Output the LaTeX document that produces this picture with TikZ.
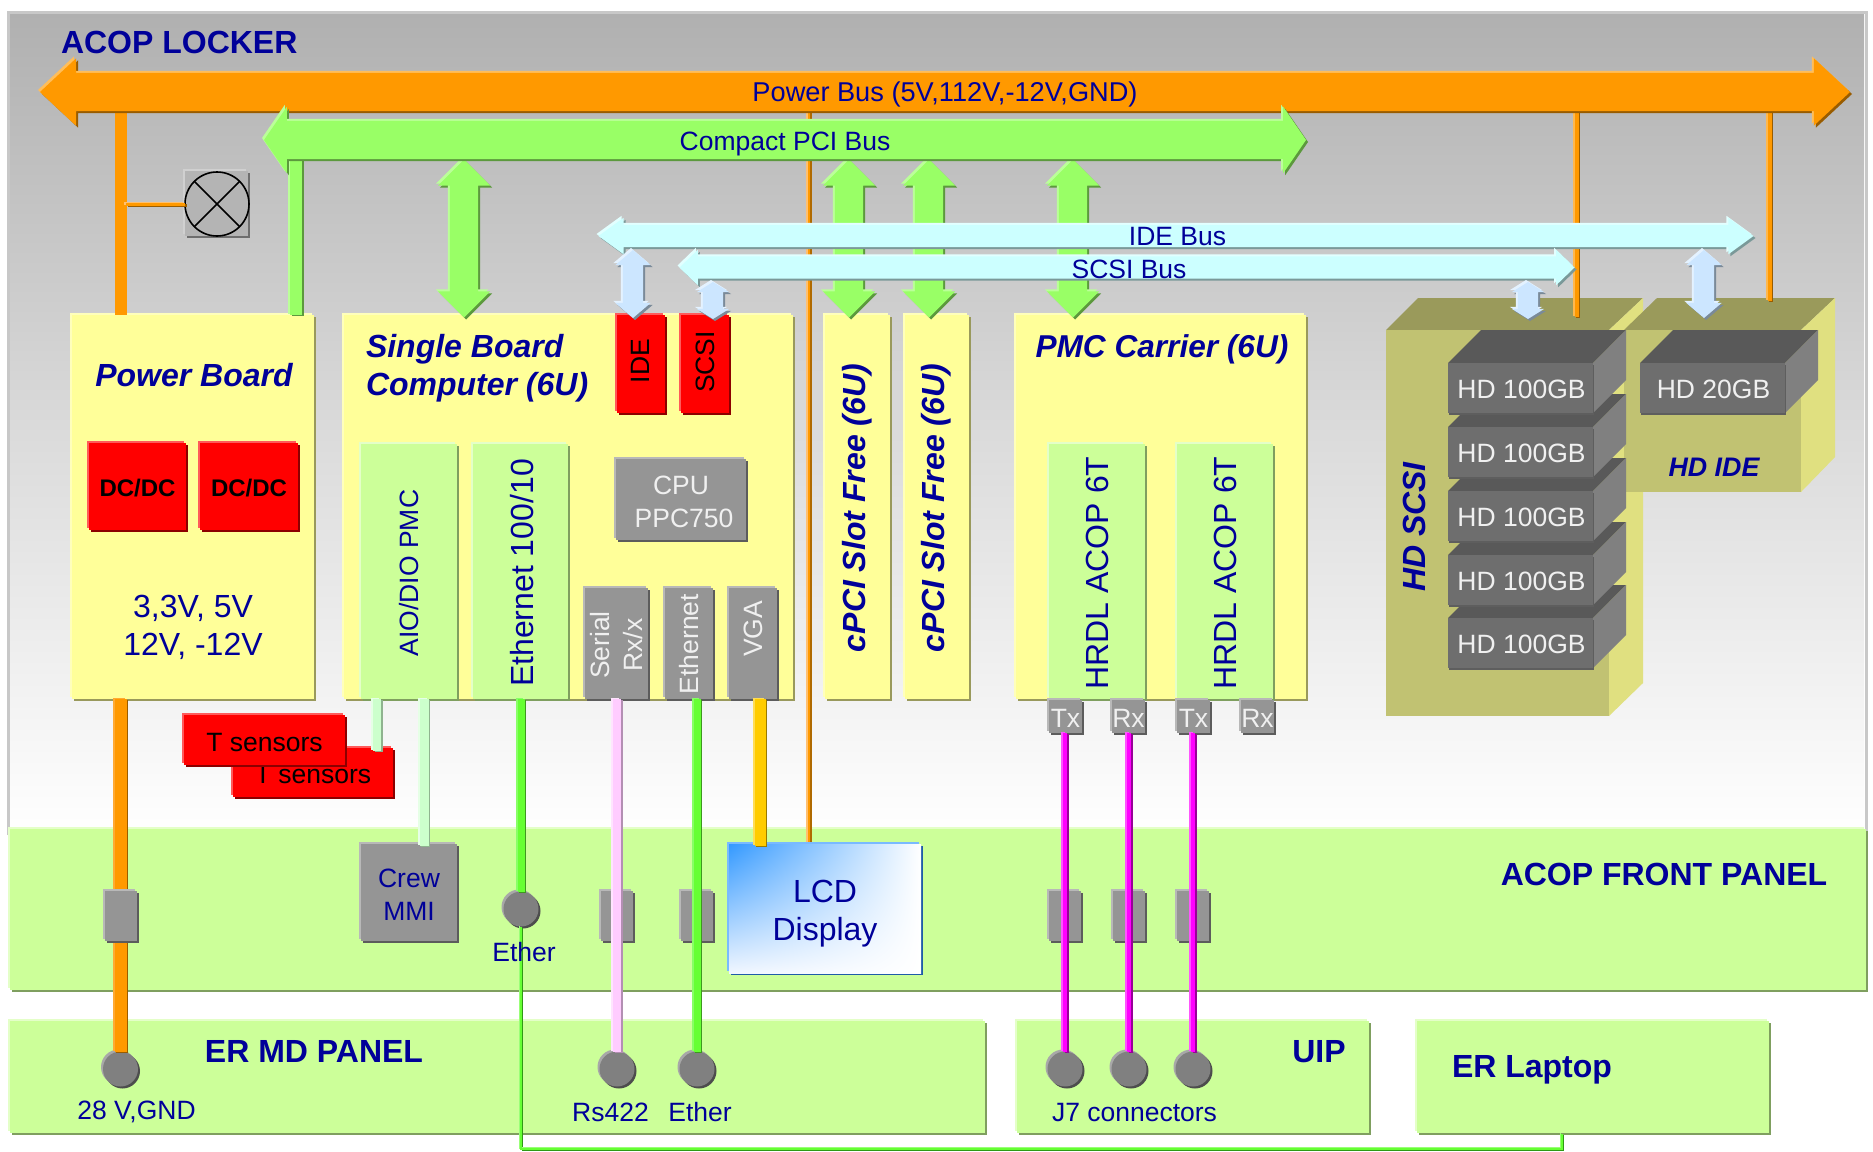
\documentclass[tikz,border=0pt]{standalone}
\usepackage{fontspec}
\setmainfont{Liberation Sans}
\usetikzlibrary{shapes.arrows,shadings}
\definecolor{tc}{HTML}{000099}
\definecolor{whtxt}{HTML}{F0F0F0}
\newcommand{\dc}[1]{\definecolor{#1}{HTML}{#1}}
\dc{F0F6FF}\dc{B0B0B0}\dc{DADADA}\dc{C8C8C8}\dc{FF9900}\dc{FFC070}\dc{B06A00}\dc{9A9A5B}\dc{E0E080}\dc{C1C272}\dc{FFB84D}\dc{995C00}\dc{FFFF99}\dc{FFFFBB}\dc{99995C}\dc{CCFF99}\dc{E4FFC8}\dc{7F9F5F}\dc{FF0000}\dc{FF5A5A}\dc{8C0000}\dc{959595}\dc{B8B8B8}\dc{5C5C5C}\dc{6E6E6E}\dc{5E5E5E}\dc{595959}\dc{808080}\dc{FFBE5A}\dc{99FF66}\dc{BBFF99}\dc{5C993D}\dc{CCFFFF}\dc{E2FFFF}\dc{7A9999}\dc{CCE6FF}\dc{E4F2FF}\dc{7A8A99}\dc{FFAA33}\dc{A8A8A8}\dc{4D4D4D}\dc{B4B4B4}\dc{D0D0D0}\dc{FFFFFF}\dc{79BAFF}\dc{1F5CA8}\dc{3399FF}\dc{E8F2FF}\dc{CCFFCC}\dc{E6FFE6}\dc{8FB38F}\dc{66FF33}\dc{88FF66}\dc{3D991F}\dc{FFCCFF}\dc{FFE4FF}\dc{B38FB3}\dc{FFCC00}\dc{FFDD55}\dc{997A00}\dc{FF00FF}\dc{FF55FF}\dc{990099}\dc{99FF77}\dc{2E9914}
\newcommand{\fsA}{\fontsize{26.5pt}{33pt}\selectfont}
\newcommand{\fsB}{\fontsize{32pt}{38pt}\selectfont}
\newcommand{\bx}[6][]{\node[boxn,#1,minimum width={(#5-#3)*1pt},minimum height={(#6-#4)*1pt}] (#2) at ({(#3+#5)/2},{(#4+#6)/2}) {};}
\newcommand{\tl}[3][]{\node[#1] (#2T) at (#2.center) {#3};}
% bevelled wire: width, main colour, light edge, dark edge, path
\newcommand{\wrl}[5]{%
 \begin{scope}[transform canvas={shift={(1.6pt,-1pt)}}]\draw[line width=#1,draw=#4] #5;\end{scope}
 \begin{scope}[transform canvas={shift={(-1.6pt,1pt)}}]\draw[line width=#1,draw=#3] #5;\end{scope}
 \draw[line width=#1,draw=#2] #5;}
\newcommand{\hd}[4]{%
 \fill[hdtop] (#2,#3) -- ++(33,-33) -- ++(145,0) -- ++(-33,33) -- cycle;
 \fill[hdside] (#2+145,#3) -- ++(33,-33) -- ++(0,50) -- ++(-33,33) -- cycle;
 \bx[hdfront]{#1}{#2}{#3}{#2+145}{#3+50}
 \tl[tw,yshift=-1.5pt,xshift=1pt]{#1}{#4}}
\tikzset{
 boxn/.style={rectangle,inner sep=0pt,outer sep=0pt,align=center},
 bev/.style n args={3}{fill=#1,preaction={fill=#3,transform canvas={shift={(2pt,-2pt)}}},preaction={fill=#2,transform canvas={shift={(-2pt,2pt)}}}},
 ylw/.style={bev={FFFF99}{FFFFBB}{99995C}},
 grn/.style={bev={CCFF99}{E4FFC8}{7F9F5F}},
 red/.style={bev={FF0000}{FF5A5A}{8C0000}},
 gry/.style={bev={959595}{B8B8B8}{5C5C5C}},
 hdfront/.style={fill=6E6E6E,preaction={fill=5E5E5E,transform canvas={shift={(1pt,-1.5pt)}}}},
 hdtop/.style={fill=595959},
 hdside/.style={fill=808080},
 t/.style={inner sep=0pt,outer sep=0pt,text=tc,font=\fsA,align=center},
 tb/.style={inner sep=0pt,outer sep=0pt,text=tc,font=\fsB\bfseries,align=center},
 tbi/.style={inner sep=0pt,outer sep=0pt,text=tc,font=\fsB\bfseries\itshape,align=left},
 tm/.style={inner sep=0pt,outer sep=0pt,text=tc,font=\fsB,align=center},
 tw/.style={inner sep=0pt,outer sep=0pt,text=whtxt,font=\fsA,align=center},
 tk/.style={inner sep=0pt,outer sep=0pt,text=black,font=\fsA,align=center},
 dcf/.style={inner sep=0pt,outer sep=0pt,text=black,font=\fontsize{24pt}{28pt}\selectfont\bfseries},
 dbl/.style n args={4}{double arrow,inner sep=0pt,outer sep=0pt,minimum height=#1,minimum width=#2,double arrow head extend=#3,double arrow tip angle=#4,double arrow head indent=0pt},
 obus/.style={bev={FF9900}{FFBE5A}{995C00},text=tc},
 gbus/.style={bev={99FF66}{BBFF99}{5C993D},text=tc,font=\fsA},
 cbus/.style={bev={CCFFFF}{E2FFFF}{7A9999},text=tc,font=\fsA},
 bbus/.style={bev={CCE6FF}{E4F2FF}{7A8A99}},
 dot/.style={circle,inner sep=0pt,outer sep=0pt,minimum size=35pt,bev={808080}{A8A8A8}{4D4D4D}},
}
\begin{document}
\begin{tikzpicture}[x=1pt,y=-1pt]
\useasboundingbox (0,0) rectangle (1873,1151);
\fill[white] (0,0) rectangle (1873,1151);
% locker background
\shade[top color=B0B0B0,bottom color=white,middle color=DADADA] (9,13) rectangle (1864,835);
\draw[line width=3pt,C8C8C8] (8,835) -- (8,12) -- (1866,12) -- (1866,835);
\node[tb,anchor=west] (lockerT) at (61,42) {ACOP LOCKER};
% panels
\bx[grn]{front}{10}{829}{1866}{990}
\bx[grn]{ermd}{10}{1021}{985}{1133}
\bx[grn]{uip}{1017}{1021}{1369}{1133}
\bx[grn]{lap}{1417}{1021}{1769}{1133}
\node[tb] (frontT) at (1664,874.5) {ACOP FRONT PANEL};
\node[tb] (ermdT) at (314,1051) {ER MD PANEL};
\node[tb] (uipT) at (1319,1052) {UIP};
\node[tb] (lapT) at (1532,1070) {ER Laptop};
% thin orange line to LCD
\coordinate (lcdo) at (809,846);
\coordinate (pbo) at (809,106);
\wrl{2.8pt}{FF9900}{FFC070}{B06A00}{(pbo) -- (lcdo)}
% orange verticals on the right (under the IDE bus)
\coordinate (hdso) at (1576.5,317);
\coordinate (hdio) at (1769.5,301);
\coordinate (pbs) at (1576.5,108);
\coordinate (pbi) at (1769.5,108);
% HD cabinets
\fill[9A9A5B] (1386,330) -- (1418,298) -- (1643,298) -- (1609,330) -- cycle;
\fill[E0E080] (1609,330) -- (1643,298) -- (1643,683) -- (1609,716) -- cycle;
\bx[fill=C1C272]{hdscsi}{1386}{330}{1609}{716}
\wrl{4pt}{FF9900}{FFB84D}{995C00}{(pbs) -- (hdso)}
\fill[9A9A5B] (1624,330) -- (1657,298) -- (1835,298) -- (1801,330) -- cycle;
\fill[E0E080] (1801,330) -- (1835,298) -- (1835,457) -- (1801,492) -- cycle;
\bx[fill=C1C272]{hdide}{1624}{330}{1801}{492}
\wrl{4pt}{FF9900}{FFB84D}{995C00}{(pbi) -- (hdio)}
\node[tbi,rotate=90] (hdscsiT) at (1414,527) {HD SCSI};
\node[tbi,font=\fontsize{26.8pt}{30pt}\selectfont\bfseries\itshape] (hdideT) at (1714,467) {HD IDE};
\hd{hd5}{1448}{618}{HD 100GB}
\hd{hd4}{1448}{555}{HD 100GB}
\hd{hd3}{1448}{491}{HD 100GB}
\hd{hd2}{1448}{427}{HD 100GB}
\hd{hd1}{1448}{363}{HD 100GB}
\hd{hd20}{1640}{363}{HD 20GB}
% boards
\bx[ylw]{pboard}{72}{315}{314}{699}
\bx[ylw]{sbc}{344}{315}{793}{699}
\bx[ylw]{slot1}{825}{315}{889.5}{699}
\bx[ylw]{slot2}{905}{315}{969}{699}
\bx[ylw]{pmc}{1016}{315}{1305.5}{699}
\node[tbi] (pboardT) at (194,375) {Power Board};
\node[tbi,anchor=west] (sbcT) at (366,368.5) {Single Board\\Computer (6U)};
\node[tbi,font=\fontsize{31.6pt}{38pt}\selectfont\bfseries\itshape] (pmcT) at (1162,349) {PMC Carrier (6U)};
\node[tbi,rotate=90] (slot1T) at (857,508) {cPCI Slot Free (6U)};
\node[tbi,rotate=90] (slot2T) at (936,508) {cPCI Slot Free (6U)};
\bx[red]{dc1}{89}{443}{186}{530}
\bx[red]{dc2}{200}{443}{298}{530}
\tl[dcf,yshift=-2pt]{dc1}{DC/DC}
\tl[dcf,yshift=-2pt]{dc2}{DC/DC}
\node[tm] (volt) at (193,627.5) {3,3V, 5V\\12V, -12V};
\bx[red]{ide}{617}{315}{665}{413}
\bx[red]{scsi}{681}{315}{729}{413}
\node[tk,rotate=90] (ideT) at (640.5,361) {IDE};
\node[tk,rotate=90] (scsiT) at (705,362) {SCSI};
\bx[grn]{aio}{361}{444}{457}{699}
\bx[grn]{eth}{473}{444}{568}{699}
\node[t,rotate=90] (aioT) at (409,573) {AIO/DIO PMC};
\node[tm,rotate=90] (ethT) at (522,573) {Ethernet 100/10};
\bx[gry]{cpu}{616}{459}{746}{540}
\tl[tw,yshift=-2pt]{cpu}{CPU\\\hspace*{6pt}PPC750}
\bx[gry]{serial}{585}{588}{648}{699}
\bx[gry]{ethp}{665}{588}{713}{699}
\bx[gry]{vga}{729}{588}{777}{699}
\node[tw,rotate=90] (serialT) at (617,645) {Serial\\Rx/x};
\node[tw,rotate=90] (ethpT) at (689,644) {Ethernet};
\node[tw,rotate=90] (vgaT) at (753,629) {VGA};
\bx[grn]{hrdl1}{1049}{444}{1145}{699}
\bx[grn]{hrdl2}{1177}{444}{1273}{699}
\node[tm,rotate=90] (hrdl1T) at (1097,573) {HRDL ACOP 6T};
\node[tm,rotate=90] (hrdl2T) at (1225,573) {HRDL ACOP 6T};
\bx[gry]{tx1}{1049}{700}{1082}{733}
\bx[gry]{rx1}{1112}{700}{1145}{733}
\bx[gry]{tx2}{1177}{700}{1210}{733}
\bx[gry]{rx2}{1241}{700}{1274}{733}
\tl[tw,yshift=-1.5pt]{tx1}{Tx}
\tl[tw,yshift=-1.5pt]{rx1}{Rx}
\tl[tw,yshift=-1.5pt]{tx2}{Tx}
\tl[tw,yshift=-1.5pt]{rx2}{Rx}
% fan
\bx[bev={B4B4B4}{D0D0D0}{6E6E6E}]{fanbox}{185}{171}{248}{236}
\node[circle,draw=black,line width=1.6pt,minimum size=64pt,inner sep=0pt,outer sep=0pt] (fan) at (217,204) {};
\draw[black,line width=1.6pt] (fan.45) -- (fan.225) (fan.135) -- (fan.315);
% vertical double arrows compact PCI <-> boards
\node[dbl={158pt}{52pt}{12pt}{90},gbus,text height=28pt,text depth=0pt,rotate=90] (a1) at (464,238.5) {};
\node[dbl={158pt}{52pt}{12pt}{90},gbus,text height=28pt,text depth=0pt,rotate=90] (a2) at (849,238.5) {};
\node[dbl={158pt}{52pt}{12pt}{90},gbus,text height=28pt,text depth=0pt,rotate=90] (a3) at (929,238.5) {};
\node[dbl={158pt}{52pt}{12pt}{90},gbus,text height=28pt,text depth=0pt,rotate=90] (a4) at (1073,238.5) {};
% buses
\coordinate (pbp) at (121,108);
\draw[line width=12pt,FF9900] (pbp) -- (pbp |- pboard.north);
\coordinate (cbp) at (296,150);
\wrl{12pt}{99FF66}{BBFF99}{5C993D}{(cbp) -- (cbp |- pboard.north)}
\node[dbl={1810pt}{67pt}{14.5pt}{86},obus,font=\fontsize{27.2pt}{33pt}\selectfont,text height=28.5pt,text depth=9.5pt] (pbus) at (945,92) {Power Bus (5V,112V,-12V,GND)};
\node[dbl={1042pt}{66pt}{14pt}{111},gbus,text height=29.5pt,text depth=8.5pt] (cbus) at (785,140) {Compact PCI Bus};
\coordinate (fanp) at (126,204);
\wrl{3pt}{FF9900}{FFC070}{995C00}{(fanp) -- (fan.west)}
\node[dbl={1155pt}{36pt}{7pt}{72},cbus,text height=20.5pt,text depth=1.5pt] (ibus) at (1176,236) {\hspace*{3pt}IDE Bus};
\node[dbl={895pt}{35pt}{6.5pt}{88},cbus,text height=22pt,text depth=0pt] (sbus) at (1127,267.5) {\hspace*{4pt}SCSI Bus};
% small double arrows
\node[dbl={68pt}{35pt}{7.5pt}{99},bbus,text height=20pt,text depth=0pt,rotate=90] (aide) at (633,284) {};
\node[dbl={37pt}{32pt}{6pt}{116},bbus,text height=20pt,text depth=0pt,rotate=90] (ascsi) at (713,300.5) {};
\node[dbl={37pt}{32pt}{6pt}{116},bbus,text height=20pt,text depth=0pt,rotate=90] (ahds) at (1528,300.5) {};
\node[dbl={68pt}{35pt}{7.5pt}{99},bbus,text height=20pt,text depth=0pt,rotate=90] (ahdi) at (1704,284) {};
% front panel connectors and sockets
\bx[gry]{lcd0}{601}{891}{633}{941}
\bx[gry]{lcd1}{681}{891}{713}{941}
\bx[gry]{j1}{1049}{891}{1081}{941}
\bx[gry]{j2}{1113}{891}{1145}{941}
\bx[gry]{j3}{1177}{891}{1209}{941}
\node[dot] (c28) at (120.5,1069) {};
\node[dot] (crs) at (617,1069) {};
\node[dot] (cet) at (697,1069) {};
\node[dot] (cj1) at (1065,1069) {};
\node[dot] (cj2) at (1129,1069) {};
\node[dot] (cj3) at (1193,1069) {};
\node[dot] (ceth) at (521,909) {};
\bx[gry]{crew}{361}{844}{457}{941}
\tl[t,yshift=-2pt]{crew}{Crew\\MMI}
\bx[bev={FFFFFF}{79BAFF}{1F5CA8}]{lcd}{729}{844}{921}{973}
\shade[upper left=3399FF,lower right=white,upper right=white,lower left=F0F6FF] (lcd.north west) rectangle (lcd.south east);
\node[tm,yshift=-5pt] (lcdT) at (lcd.center) {LCD\\Display};
% T sensors
\bx[red]{ts2}{233}{748}{393}{797}
\tl[tk,yshift=-2.5pt]{ts2}{T sensors}
\bx[red]{ts1}{184}{715}{345}{765}
\tl[tk,yshift=-2.5pt]{ts1}{T sensors}
% wires
\wrl{12pt}{FF9900}{FFAA33}{995C00}{(pboard.south -| c28) -- (c28.north)}
\bx[gry]{j28}{105}{891}{137}{941}
\coordinate (ts2p) at (377,751);
\wrl{8pt}{CCFFCC}{E6FFE6}{8FB38F}{(aio.south -| ts2p) -- (ts2p)}
\coordinate (crewp) at (424,846);
\wrl{9pt}{CCFFCC}{E6FFE6}{8FB38F}{(aio.south -| crewp) -- (crewp)}
\wrl{7pt}{66FF33}{88FF66}{3D991F}{(eth.south -| ceth) -- (ceth.north)}
\wrl{8pt}{FFCCFF}{FFE4FF}{B38FB3}{(serial.south -| crs) -- (crs.north)}
\wrl{7pt}{66FF33}{88FF66}{3D991F}{(ethp.south -| cet) -- (cet.north)}
\coordinate (lcdy) at (760,846);
\wrl{11pt}{FFCC00}{FFDD55}{997A00}{(vga.south -| lcdy) -- (lcdy)}
\wrl{4pt}{FF00FF}{FF55FF}{990099}{(tx1.south -| cj1) -- (cj1.north)}
\wrl{4pt}{FF00FF}{FF55FF}{990099}{(rx1.south -| cj2) -- (cj2.north)}
\wrl{4pt}{FF00FF}{FF55FF}{990099}{(tx2.south -| cj3) -- (cj3.north)}
\coordinate (lapj) at (1562,1134);
\coordinate (corner) at (521,1149);
\wrl{1.6pt}{66FF33}{99FF77}{2E9914}{(ceth.south) -- (corner) -- (lapj |- corner) -- (lapj)}
% labels
\node[t] (lE) at (524,952) {Ether};
\node[t] (l28) at (136.5,1112) {28 V,GND};
\node[t] (lRs) at (610.5,1112) {Rs422};
\node[t] (lEt) at (700,1112) {Ether};
\node[t] (lJ7) at (1134.5,1112) {J7 connectors};
\end{tikzpicture}
\end{document}
